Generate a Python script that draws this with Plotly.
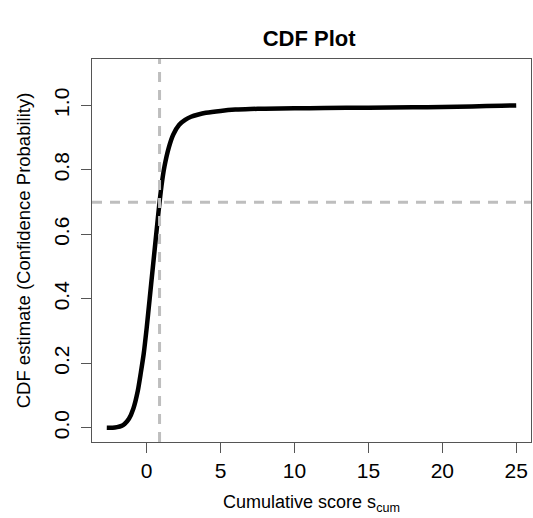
import plotly.graph_objects as go

# CDF curve
s_cum = [-2.7, -2.3, -2.0, -1.7, -1.5, -1.2, -0.9, -0.6, -0.4, -0.2, 0.0, 0.2, 0.4,
         0.6, 0.8, 1.0, 1.2, 1.5, 1.8, 2.2, 2.6, 3.0, 3.5, 4.0, 5.0, 6.0, 7.0, 8.0,
         10.0, 12.0, 15.0, 18.0, 20.0, 22.0, 24.0, 25.0]
cdf = [0.0, 0.0, 0.002, 0.006, 0.012, 0.028, 0.06, 0.115, 0.17, 0.23, 0.31, 0.40,
       0.49, 0.58, 0.67, 0.75, 0.81, 0.87, 0.91, 0.94, 0.955, 0.965, 0.972, 0.977,
       0.983, 0.987, 0.989, 0.99, 0.991, 0.992, 0.993, 0.994, 0.995, 0.997, 0.999, 1.0]

threshold_prob = 0.7
threshold_score = 0.87

x_ticks = [0, 5, 10, 15, 20, 25]
y_ticks = [0.0, 0.2, 0.4, 0.6, 0.8, 1.0]

FONT = "Liberation Sans, Arial, Helvetica, sans-serif"
AXC = "#555555"

fig = go.Figure()
fig.add_trace(go.Scatter(x=s_cum, y=cdf, mode="lines",
                         line=dict(color="black", width=4.5, shape="spline", smoothing=0.6),
                         showlegend=False, hoverinfo="skip"))

fig.add_shape(type="line", xref="x", yref="paper", x0=threshold_score, x1=threshold_score,
              y0=0, y1=1, line=dict(color="#BEBEBE", width=3, dash="10px,8px"))
fig.add_shape(type="line", xref="paper", yref="y", x0=0, x1=1,
              y0=threshold_prob, y1=threshold_prob,
              line=dict(color="#BEBEBE", width=3, dash="10px,8px"))

fig.update_layout(
    width=533, height=518,
    margin=dict(l=92, r=2, t=59, b=76),
    paper_bgcolor="white", plot_bgcolor="white",
    font=dict(family=FONT, color="black"),
    title=dict(text="<b>CDF Plot</b>", x=0.58, xanchor="center", y=0.926, yanchor="middle",
               font=dict(size=22, family=FONT, color="black")),
    xaxis=dict(range=[-3.7, 26.0], tickvals=x_ticks, ticktext=[str(v) for v in x_ticks],
               showgrid=False, zeroline=False, showline=True, mirror=True,
               linecolor=AXC, linewidth=1.2, ticks="outside", ticklen=10, tickcolor=AXC,
               tickwidth=1.2, tickfont=dict(size=21, family=FONT),
               title=dict(text="Cumulative score s<sub>cum</sub>", font=dict(size=18, family=FONT),
                          standoff=14)),
    yaxis=dict(range=[-0.044, 1.144], tickvals=y_ticks, ticktext=[f"{v:.1f}" for v in y_ticks],
               tickangle=-90, ticklabelstandoff=4,
               showgrid=False, zeroline=False, showline=True, mirror=True,
               linecolor=AXC, linewidth=1.2, ticks="outside", ticklen=10, tickcolor=AXC,
               tickwidth=1.2, tickfont=dict(size=21, family=FONT),
               title=dict(text="CDF estimate (Confidence Probability)",
                          font=dict(size=18.5, family=FONT), standoff=14)),
)

fig.write_html("out.html")
